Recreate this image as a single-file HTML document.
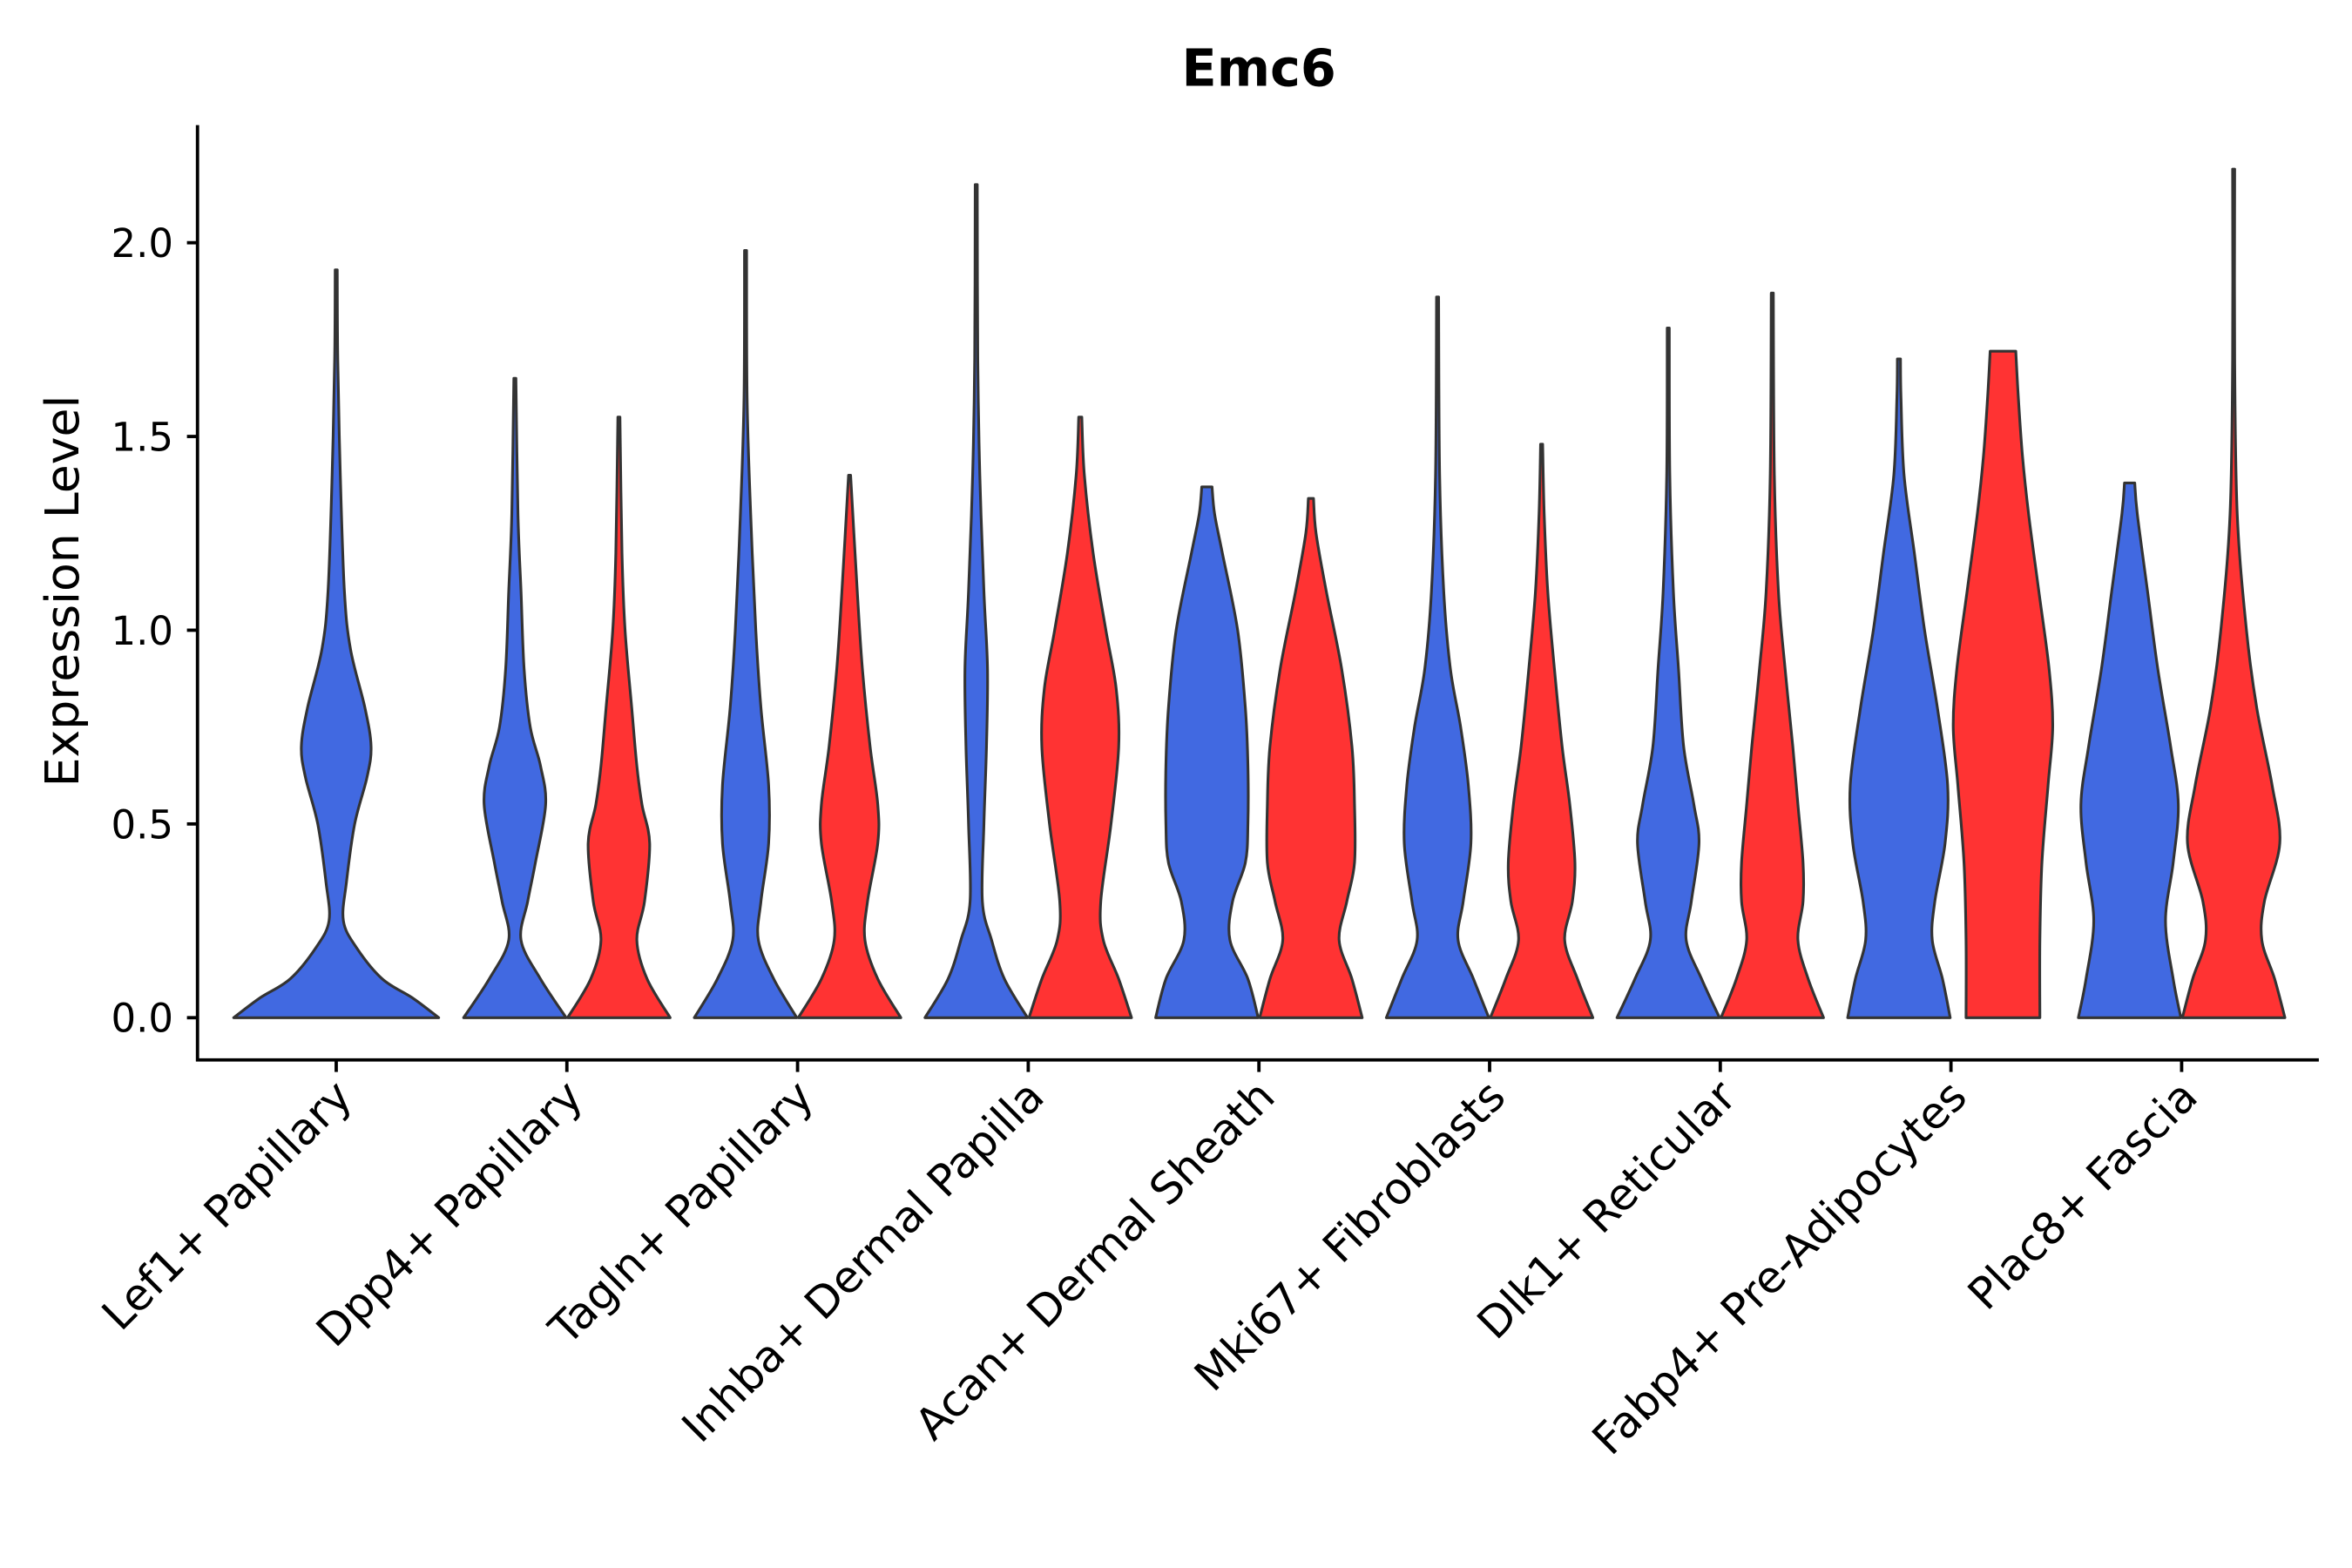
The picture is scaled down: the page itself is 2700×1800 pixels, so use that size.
<!DOCTYPE html>
<html><head><meta charset="utf-8"><style>
html,body{margin:0;padding:0;background:#fff;}
svg{display:block;font-family:"DejaVu Sans","Liberation Sans",sans-serif;}
</style></head><body>
<svg id="chart" width="2700" height="1800" viewBox="0 0 1560 1040" xmlns="http://www.w3.org/2000/svg">
<rect width="1560" height="1040" fill="#fff"/>
<text x="835" y="57" text-anchor="middle" font-size="34" font-weight="bold">Emc6</text>
<g id="violins"></g>
<g id="axes"></g>
<text transform="translate(52,392) rotate(-90)" text-anchor="middle" font-size="31">Expression Level</text>
</svg>
<script>
const categories = ["Lef1+ Papillary","Dpp4+ Papillary","Tagln+ Papillary","Inhba+ Dermal Papilla","Acan+ Dermal Sheath","Mki67+ Fibroblasts","Dlk1+ Reticular","Fabp4+ Pre-Adipocytes","Plac8+ Fascia"];
const yTicks = [0, 0.5, 1.0, 1.5, 2.0];
const yTickLabels = ["0.0","0.5","1.0","1.5","2.0"];
// density profiles: [expression value, relative half-width]
const blueProfiles = [
 [[0,1],[0.05,0.75],[0.1,0.45],[0.18,0.2],[0.25,0.07],[0.35,0.1],[0.5,0.18],[0.62,0.3],[0.7,0.34],[0.8,0.28],[0.95,0.14],[1.1,0.08],[1.4,0.04],[1.7,0.015],[1.93,0.01]],
 [[0,1],[0.1,0.5],[0.2,0.12],[0.3,0.25],[0.4,0.4],[0.55,0.6],[0.65,0.5],[0.75,0.3],[0.9,0.18],[1.1,0.12],[1.3,0.06],[1.65,0.02]],
 [[0,1],[0.1,0.55],[0.2,0.25],[0.3,0.3],[0.45,0.45],[0.6,0.45],[0.8,0.3],[1.0,0.2],[1.3,0.1],[1.6,0.03],[1.98,0.02]],
 [[0,1],[0.1,0.55],[0.2,0.3],[0.3,0.12],[0.5,0.15],[0.7,0.2],[0.9,0.22],[1.1,0.15],[1.4,0.07],[1.7,0.03],[2.15,0.02]],
 [[0,1],[0.1,0.8],[0.2,0.45],[0.3,0.5],[0.4,0.75],[0.5,0.8],[0.65,0.8],[0.8,0.75],[1.0,0.6],[1.2,0.3],[1.3,0.15],[1.37,0.1]],
 [[0,1],[0.1,0.7],[0.2,0.4],[0.3,0.5],[0.45,0.65],[0.6,0.6],[0.75,0.45],[0.9,0.25],[1.1,0.12],[1.4,0.04],[1.86,0.02]],
 [[0,1],[0.1,0.65],[0.2,0.35],[0.3,0.45],[0.45,0.6],[0.55,0.5],[0.7,0.3],[0.9,0.2],[1.1,0.1],[1.4,0.03],[1.78,0.02]],
 [[0,1],[0.1,0.85],[0.2,0.65],[0.3,0.7],[0.45,0.9],[0.6,0.95],[0.8,0.75],[1.0,0.5],[1.2,0.3],[1.4,0.1],[1.6,0.04],[1.7,0.03]],
 [[0,1],[0.1,0.85],[0.25,0.7],[0.4,0.85],[0.55,0.95],[0.7,0.8],[0.9,0.55],[1.1,0.35],[1.3,0.15],[1.38,0.1]]
];
const redProfiles = [
 null,
 [[0,1],[0.1,0.55],[0.2,0.35],[0.3,0.5],[0.45,0.6],[0.55,0.45],[0.65,0.35],[0.8,0.25],[1.0,0.12],[1.2,0.06],[1.55,0.02]],
 [[0,1],[0.1,0.55],[0.2,0.3],[0.3,0.35],[0.45,0.55],[0.55,0.55],[0.7,0.4],[0.9,0.25],[1.1,0.15],[1.4,0.02]],
 [[0,1],[0.1,0.75],[0.2,0.45],[0.3,0.4],[0.5,0.6],[0.7,0.75],[0.85,0.7],[1.0,0.5],[1.2,0.25],[1.4,0.08],[1.55,0.03]],
 [[0,1],[0.1,0.8],[0.2,0.55],[0.3,0.7],[0.4,0.85],[0.55,0.85],[0.7,0.8],[0.9,0.6],[1.1,0.3],[1.25,0.1],[1.34,0.05]],
 [[0,1],[0.1,0.7],[0.2,0.45],[0.3,0.6],[0.4,0.65],[0.55,0.55],[0.7,0.4],[0.9,0.25],[1.1,0.12],[1.3,0.05],[1.48,0.02]],
 [[0,1],[0.1,0.7],[0.2,0.5],[0.3,0.6],[0.4,0.6],[0.55,0.5],[0.7,0.4],[0.9,0.25],[1.1,0.12],[1.4,0.04],[1.87,0.02]],
 [[0,0.72],[0.2,0.72],[0.4,0.76],[0.6,0.88],[0.75,0.97],[0.9,0.9],[1.1,0.7],[1.3,0.5],[1.45,0.38],[1.6,0.3],[1.72,0.25]],
 [[0,1],[0.1,0.8],[0.2,0.55],[0.3,0.6],[0.45,0.9],[0.6,0.75],[0.8,0.45],[1.0,0.25],[1.3,0.07],[1.7,0.02],[2.19,0.02]]
];

const NS="http://www.w3.org/2000/svg";
const x0=223, dx=153, axisLeft=131, axisRight=1538, axisBottom=703;
const yScale=v=>675-v*257;
const xCenter=i=>x0+i*dx;

function smoothSide(pts){
  let d="";
  for(let i=0;i<pts.length-1;i++){
    const p0=pts[Math.max(i-1,0)],p1=pts[i],p2=pts[i+1],p3=pts[Math.min(i+2,pts.length-1)];
    const c1=[p1[0]+(p2[0]-p0[0])/6,p1[1]+(p2[1]-p0[1])/6];
    const c2=[p2[0]-(p3[0]-p1[0])/6,p2[1]-(p3[1]-p1[1])/6];
    d+=` C${c1[0].toFixed(2)},${c1[1].toFixed(2)} ${c2[0].toFixed(2)},${c2[1].toFixed(2)} ${p2[0].toFixed(2)},${p2[1].toFixed(2)}`;
  }
  return d;
}
function violinPath(prof,cx,hw){
  const right=prof.map(p=>[cx+p[1]*hw,yScale(p[0])]);
  const left=prof.map(p=>[cx-p[1]*hw,yScale(p[0])]).reverse();
  let d=`M${right[0][0]},${right[0][1]}`+smoothSide(right);
  d+=` L${left[0][0]},${left[0][1]}`+smoothSide(left)+" Z";
  return d;
}
const vg=document.getElementById("violins");
categories.forEach((c,i)=>{
  const cx=xCenter(i);
  if(!redProfiles[i]){
    const p=document.createElementNS(NS,"path");
    p.setAttribute("d",violinPath(blueProfiles[i],cx,68));
    p.setAttribute("fill","#4169E1");p.setAttribute("stroke","#333");p.setAttribute("stroke-width","1.8");p.setAttribute("stroke-linejoin","round");
    
    
    vg.appendChild(p);
  } else {
    const b=document.createElementNS(NS,"path");
    b.setAttribute("d",violinPath(blueProfiles[i],cx-34.5,34));
    b.setAttribute("fill","#4169E1");b.setAttribute("stroke","#333");b.setAttribute("stroke-width","1.8");b.setAttribute("stroke-linejoin","round");
    
    
    vg.appendChild(b);
    const r=document.createElementNS(NS,"path");
    r.setAttribute("d",violinPath(redProfiles[i],cx+34.5,34));
    r.setAttribute("fill","#FF3333");r.setAttribute("stroke","#333");r.setAttribute("stroke-width","1.8");r.setAttribute("stroke-linejoin","round");
    
    
    vg.appendChild(r);
  }
});
const ag=document.getElementById("axes");
function line(x1,y1,x2,y2,name){
  const l=document.createElementNS(NS,"line");
  l.setAttribute("x1",x1);l.setAttribute("y1",y1);l.setAttribute("x2",x2);l.setAttribute("y2",y2);
  l.setAttribute("stroke","#000");l.setAttribute("stroke-width","2.2");
  
  
  ag.appendChild(l);
}
line(axisLeft,83,axisLeft,axisBottom+1,"y-axis-line");
line(axisLeft-1,axisBottom,axisRight,axisBottom,"x-axis-line");
yTicks.forEach((v,i)=>{
  const y=yScale(v);
  line(axisLeft-7,y,axisLeft,y,"y-tick");
  const t=document.createElementNS(NS,"text");
  t.setAttribute("x",axisLeft-16);t.setAttribute("y",y+9.5);t.setAttribute("text-anchor","end");t.setAttribute("font-size","26");
  t.textContent=yTickLabels[i];
  
  
  ag.appendChild(t);
});
categories.forEach((c,i)=>{
  const x=xCenter(i);
  line(x,axisBottom,x,axisBottom+8,"x-tick");
  const t=document.createElementNS(NS,"text");
  t.setAttribute("transform",`translate(${x+12},${axisBottom+26}) rotate(-45)`);
  t.setAttribute("text-anchor","end");t.setAttribute("font-size","29");
  t.textContent=c;
  
  
  ag.appendChild(t);
});
</script>
</body></html>
